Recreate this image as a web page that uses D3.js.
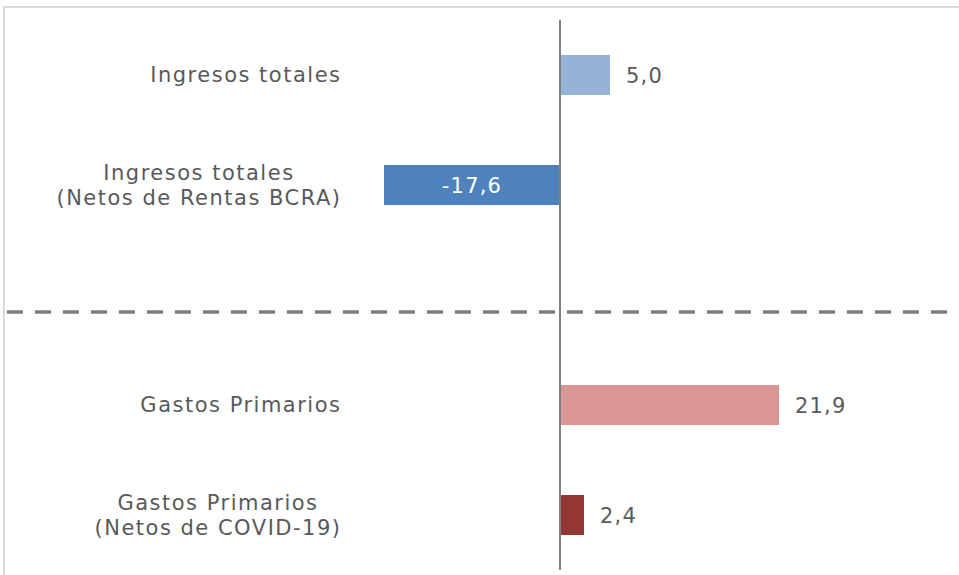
<!DOCTYPE html>
<html><head><meta charset="utf-8">
<script src="https://cdn.jsdelivr.net/npm/d3@7"></script>
<style>body{margin:0;background:#fff}svg{display:block}</style>
</head><body>
<script>
const categories = [
  ["Ingresos totales"],
  ["Ingresos totales", "(Netos de Rentas BCRA)"],
  ["Gastos Primarios"],
  ["Gastos Primarios", "(Netos de COVID-19)"]
];
const values = [5.0, -17.6, 21.9, 2.4];
const rowIndex = [0, 1, 3, 4];
const colors = ["#95b3d7", "#4f81bd", "#d99694", "#953735"];
const dividerIndex = 2.155;

const W = 959, H = 575;
const svg = d3.select("body").append("svg").attr("width", W).attr("height", H);
const font = "'DejaVu Sans', sans-serif";

svg.append("rect").attr("x", 4).attr("y", 7).attr("width", 970).attr("height", 620)
  .attr("fill", "none").attr("stroke", "#d9d9d9").attr("stroke-width", 2);

const x = d3.scaleLinear().domain([-55, 39]).range([10, 950]);
const y = d3.scaleLinear().domain([0, 4]).range([75, 515]);
const barH = 40;
const labelRight = 341.5;
const fmt = v => d3.format(".1f")(v).replace(".", ",").replace("\u2212", "-");

const data = values.map((v, i) => ({v, i, row: rowIndex[i], label: categories[i], color: colors[i]}));

// bars
svg.selectAll("rect.bar").data(data).join("rect").attr("class", "bar")
  .attr("x", d => x(Math.min(0, d.v)))
  .attr("width", d => Math.abs(x(d.v) - x(0)))
  .attr("y", d => y(d.row) - barH / 2)
  .attr("height", barH)
  .attr("fill", d => d.color);

// divider
svg.append("line").attr("x1", 7).attr("x2", 952)
  .attr("y1", y(dividerIndex)).attr("y2", y(dividerIndex))
  .attr("stroke", "#808080").attr("stroke-width", 3.5).attr("stroke-dasharray", "16,12");

// axis line
svg.append("line").attr("x1", x(0)).attr("x2", x(0)).attr("y1", 20).attr("y2", 570)
  .attr("stroke", "#808080").attr("stroke-width", 2);

// category labels (block right-aligned, lines centered within block)
const lab = svg.selectAll("text.cat").data(data).join("text").attr("class", "cat")
  .attr("text-anchor", "middle")
  .attr("font-family", font).attr("font-size", 21).attr("letter-spacing", 1.5)
  .attr("fill", "#595959");
lab.each(function(d) {
  const n = d.label.length;
  const ts = d3.select(this).selectAll("tspan").data(d.label).join("tspan")
    .attr("y", (t, j) => y(d.row) + (j - (n - 1) / 2) * 25)
    .attr("dy", "0.35em")
    .text(t => t);
  let maxW = 0;
  ts.each(function() { maxW = Math.max(maxW, this.getComputedTextLength()); });
  ts.attr("x", labelRight - maxW / 2);
});

// value labels
svg.selectAll("text.val").data(data).join("text").attr("class", "val")
  .attr("font-family", font).attr("font-size", 21).attr("letter-spacing", 1.2)
  .attr("y", d => y(d.row)).attr("dy", "0.38em")
  .attr("x", d => d.v < 0 ? (x(d.v) + x(0)) / 2 : x(d.v) + 16)
  .attr("text-anchor", d => d.v < 0 ? "middle" : "start")
  .attr("fill", d => d.v < 0 ? "#ffffff" : "#595959")
  .text(d => fmt(d.v));
</script>
</body></html>
